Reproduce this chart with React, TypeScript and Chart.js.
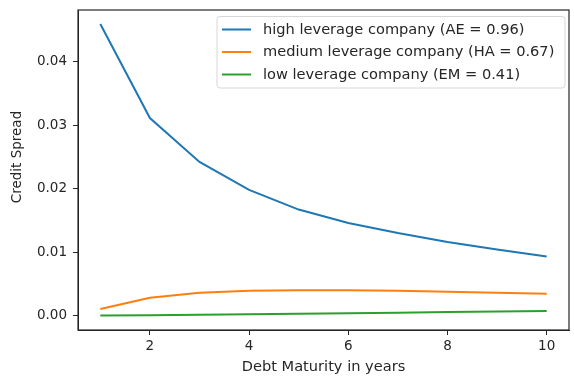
import React, { useEffect, useRef } from 'react';
import { Chart, registerables } from 'chart.js';

Chart.register(...registerables);

// Credit spread term structure for three leverage levels
const maturities = [1, 2, 3, 4, 5, 6, 7, 8, 9, 10];
const highLeverage = [0.0459, 0.0311, 0.0242, 0.0198, 0.0167, 0.0146, 0.0130, 0.0116, 0.0104, 0.0093];
const mediumLeverage = [0.00105, 0.00284, 0.00362, 0.00392, 0.00400, 0.00400, 0.00392, 0.00378, 0.00362, 0.00346];
const lowLeverage = [0.00002, 0.00006, 0.00013, 0.00021, 0.00030, 0.00039, 0.00048, 0.00057, 0.00066, 0.00074];

const seriesLabels = [
  'high leverage company (AE = 0.96)',
  'medium leverage company (HA = 0.67)',
  'low leverage company (EM = 0.41)',
];
const seriesColors = ['#1f77b4', '#ff7f0e', '#2ca02c'];

const xTicks = [2, 4, 6, 8, 10];
const yTicks = [0, 0.01, 0.02, 0.03, 0.04];

const xTitle = 'Debt Maturity in years';
const yTitle = 'Credit Spread';

const FONT = '"DejaVu Sans", sans-serif';
const TICK_SIZE = 13.5;
const TEXT_SIZE = 14.6;
const INK = '#262626';

const framePlugin = {
  id: 'frameAndLegend',
  afterDraw(chart: any) {
    const { ctx, chartArea } = chart;
    const { left, right, top, bottom } = chartArea;
    ctx.save();

    // four spines
    ctx.strokeStyle = INK;
    ctx.lineWidth = 1.2;
    ctx.strokeRect(left, top, right - left, bottom - top);

    // axis titles
    ctx.fillStyle = INK;
    ctx.font = `${TEXT_SIZE}px ${FONT}`;
    ctx.textAlign = 'center';
    ctx.textBaseline = 'middle';
    ctx.fillText(xTitle, (left + right) / 2, 367);
    ctx.save();
    ctx.font = `13.5px ${FONT}`;
    ctx.translate(17.5, 157);
    ctx.rotate(-Math.PI / 2);
    ctx.fillText(yTitle, 0, 0);
    ctx.restore();

    // legend box in the upper right corner
    const boxLeft = 217;
    const boxTop = 16.5;
    const boxRight = 565;
    const boxBottom = 88;
    const r = 3;
    ctx.beginPath();
    ctx.moveTo(boxLeft + r, boxTop);
    ctx.arcTo(boxRight, boxTop, boxRight, boxBottom, r);
    ctx.arcTo(boxRight, boxBottom, boxLeft, boxBottom, r);
    ctx.arcTo(boxLeft, boxBottom, boxLeft, boxTop, r);
    ctx.arcTo(boxLeft, boxTop, boxRight, boxTop, r);
    ctx.closePath();
    ctx.fillStyle = 'rgba(255,255,255,0.8)';
    ctx.fill();
    ctx.strokeStyle = '#d6d6d6';
    ctx.lineWidth = 1;
    ctx.stroke();

    const rowYs = [29.5, 52, 74.5];
    ctx.font = `${TEXT_SIZE}px ${FONT}`;
    seriesLabels.forEach((label, i) => {
      const y = rowYs[i];
      ctx.strokeStyle = seriesColors[i];
      ctx.lineWidth = 2;
      ctx.beginPath();
      ctx.moveTo(222, y);
      ctx.lineTo(251, y);
      ctx.stroke();
      ctx.fillStyle = INK;
      ctx.textAlign = 'left';
      ctx.textBaseline = 'middle';
      ctx.fillText(label, 263, y + 0.5);
    });

    ctx.restore();
  },
};

const zeroEdgePadding = (scale: any) => {
  scale.paddingTop = 0;
  scale.paddingBottom = 0;
  scale.paddingLeft = 0;
  scale.paddingRight = 0;
};

export default function App() {
  const canvasRef = useRef<HTMLCanvasElement | null>(null);

  useEffect(() => {
    const canvas = canvasRef.current;
    if (!canvas) return;
    const series = [highLeverage, mediumLeverage, lowLeverage];
    const chart = new Chart(canvas, {
      type: 'line',
      data: {
        datasets: series.map((values, i) => ({
          label: seriesLabels[i],
          data: maturities.map((m, j) => ({ x: m, y: values[j] })),
          borderColor: seriesColors[i],
          backgroundColor: seriesColors[i],
          borderWidth: 2,
          pointRadius: 0,
          tension: 0,
          fill: false,
        })),
      },
      options: {
        animation: false,
        responsive: false,
        maintainAspectRatio: false,
        layout: { padding: { top: 10, right: 5, left: 0, bottom: 0 } },
        plugins: {
          legend: { display: false },
          tooltip: { enabled: false },
        },
        scales: {
          x: {
            type: 'linear',
            min: 0.55,
            max: 10.45,
            afterBuildTicks: (scale: any) => {
              scale.ticks = xTicks.map((v) => ({ value: v }));
            },
            afterFit: (scale: any) => {
              scale.height = 47;
              zeroEdgePadding(scale);
            },
            ticks: {
              color: INK,
              font: { family: FONT, size: TICK_SIZE },
              padding: 3,
              maxRotation: 0,
              callback: (v: any) => String(v),
            },
            grid: {
              display: true,
              drawOnChartArea: false,
              drawTicks: true,
              tickLength: 5,
              color: INK,
            },
            border: { display: true, color: INK },
          },
          y: {
            type: 'linear',
            min: -0.00225,
            max: 0.0481,
            afterBuildTicks: (scale: any) => {
              scale.ticks = yTicks.map((v) => ({ value: v }));
            },
            afterFit: (scale: any) => {
              scale.width = 78;
              zeroEdgePadding(scale);
            },
            ticks: {
              color: INK,
              font: { family: FONT, size: TICK_SIZE },
              padding: 6,
              callback: (v: any) => Number(v).toFixed(2),
            },
            grid: {
              display: true,
              drawOnChartArea: false,
              drawTicks: true,
              tickLength: 5,
              color: INK,
            },
            border: { display: true, color: INK },
          },
        },
      },
      plugins: [framePlugin],
    });
    return () => chart.destroy();
  }, []);

  return (
    <div style={{ position: 'fixed', left: 0, top: 0, width: 574, height: 377, background: '#fff' }}>
      <canvas ref={canvasRef} width={574} height={377} style={{ display: 'block' }} />
    </div>
  );
}
